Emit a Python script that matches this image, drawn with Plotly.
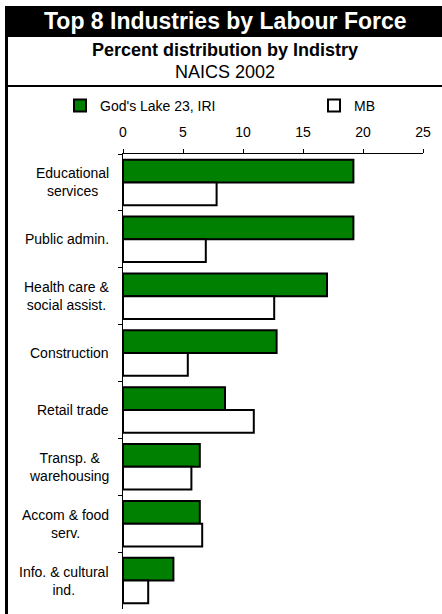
import plotly.graph_objects as go

categories = [
    "Educational<br>services",
    "Public admin.",
    "Health care &<br>social assist.",
    "Construction",
    "Retail trade",
    "Transp. &<br>warehousing",
    "Accom & food<br>serv.",
    "Info. & cultural<br>ind.",
]
gods_lake = [19.2, 19.2, 17.0, 12.8, 8.5, 6.4, 6.4, 4.2]
mb = [7.8, 6.9, 12.6, 5.4, 10.9, 5.7, 6.6, 2.1]
series_names = ["God's Lake 23, IRI", "MB"]
x_ticks = [0, 5, 10, 15, 20, 25]

W, H = 442, 614
L, R, T, B = 123, 19, 154, 5
PW, PH = W - L - R, H - T - B
FONT = "Arial, Liberation Sans, sans-serif"


def fx(px):
    return (px - L) / PW


def fy(py):
    return (H - B - py) / PH


fig = go.Figure()
fig.add_trace(go.Bar(
    y=categories, x=gods_lake, orientation="h", name=series_names[0],
    marker=dict(color="#008000", line=dict(color="#000000", width=2)),
    legend="legend", showlegend=True,
))
fig.add_trace(go.Bar(
    y=categories, x=mb, orientation="h", name=series_names[1],
    marker=dict(color="#ffffff", line=dict(color="#000000", width=2)),
    legend="legend2", showlegend=True,
))

shapes = [
    dict(type="rect", xref="paper", yref="paper", x0=fx(5), x1=fx(W + 2),
         y0=fy(37), y1=fy(6), fillcolor="#000000", line=dict(width=0), layer="above"),
    dict(type="rect", xref="paper", yref="paper", x0=fx(5), x1=fx(8),
         y0=fy(H + 2), y1=fy(6), fillcolor="#000000", line=dict(width=0), layer="above"),
    dict(type="rect", xref="paper", yref="paper", x0=fx(5), x1=fx(W + 2),
         y0=fy(87), y1=fy(85), fillcolor="#000000", line=dict(width=0), layer="above"),
]

annotations = [
    dict(text="<b>Top 8 Industries by Labour Force</b>", xref="paper", yref="paper",
         x=fx(225), y=fy(21), xanchor="center", yanchor="middle", showarrow=False,
         font=dict(family=FONT, size=23, color="#ffffff")),
    dict(text="<b>Percent distribution by Indistry</b>", xref="paper", yref="paper",
         x=fx(225), y=fy(50), xanchor="center", yanchor="middle", showarrow=False,
         font=dict(family=FONT, size=18, color="#000000")),
    dict(text="NAICS 2002", xref="paper", yref="paper",
         x=fx(225), y=fy(72), xanchor="center", yanchor="middle", showarrow=False,
         font=dict(family=FONT, size=18, color="#000000")),
]
for c in categories:
    annotations.append(dict(
        text=c, xref="paper", yref="y", x=fx(111), y=c, xanchor="right",
        yanchor="middle", align="center", showarrow=False,
        font=dict(family=FONT, size=14, color="#000000"),
    ))

fig.update_layout(
    width=W, height=H,
    margin=dict(l=L, r=R, t=T, b=B, pad=0),
    paper_bgcolor="#ffffff", plot_bgcolor="#ffffff",
    barmode="group", bargap=0.2, bargroupgap=0.0,
    font=dict(family=FONT, size=14, color="#000000"),
    shapes=shapes, annotations=annotations,
    showlegend=True,
    legend=dict(orientation="h", x=fx(60), y=fy(106), xanchor="left", yanchor="middle",
                font=dict(family=FONT, size=14), bgcolor="rgba(0,0,0,0)", visible=True),
    legend2=dict(orientation="h", x=fx(314), y=fy(106), xanchor="left", yanchor="middle",
                 font=dict(family=FONT, size=14), bgcolor="rgba(0,0,0,0)", visible=True),
    xaxis=dict(side="top", range=[0, 25], tickvals=x_ticks, ticktext=[str(v) for v in x_ticks],
               showline=True, linecolor="#000000", linewidth=1, ticks="outside",
               ticklen=4, tickcolor="#000000", showgrid=False, zeroline=False,
               tickfont=dict(family=FONT, size=14), ticklabelstandoff=6, fixedrange=True),
    yaxis=dict(autorange="reversed", showticklabels=False, showline=True,
               linecolor="#000000", linewidth=1, ticks="outside", ticklen=4,
               tickcolor="#000000", tickson="boundaries", showgrid=False, fixedrange=True),
)

fig.write_html("out.html", config={"displayModeBar": False},
               post_script="document.body.style.margin='0';document.body.style.overflow='hidden';")
